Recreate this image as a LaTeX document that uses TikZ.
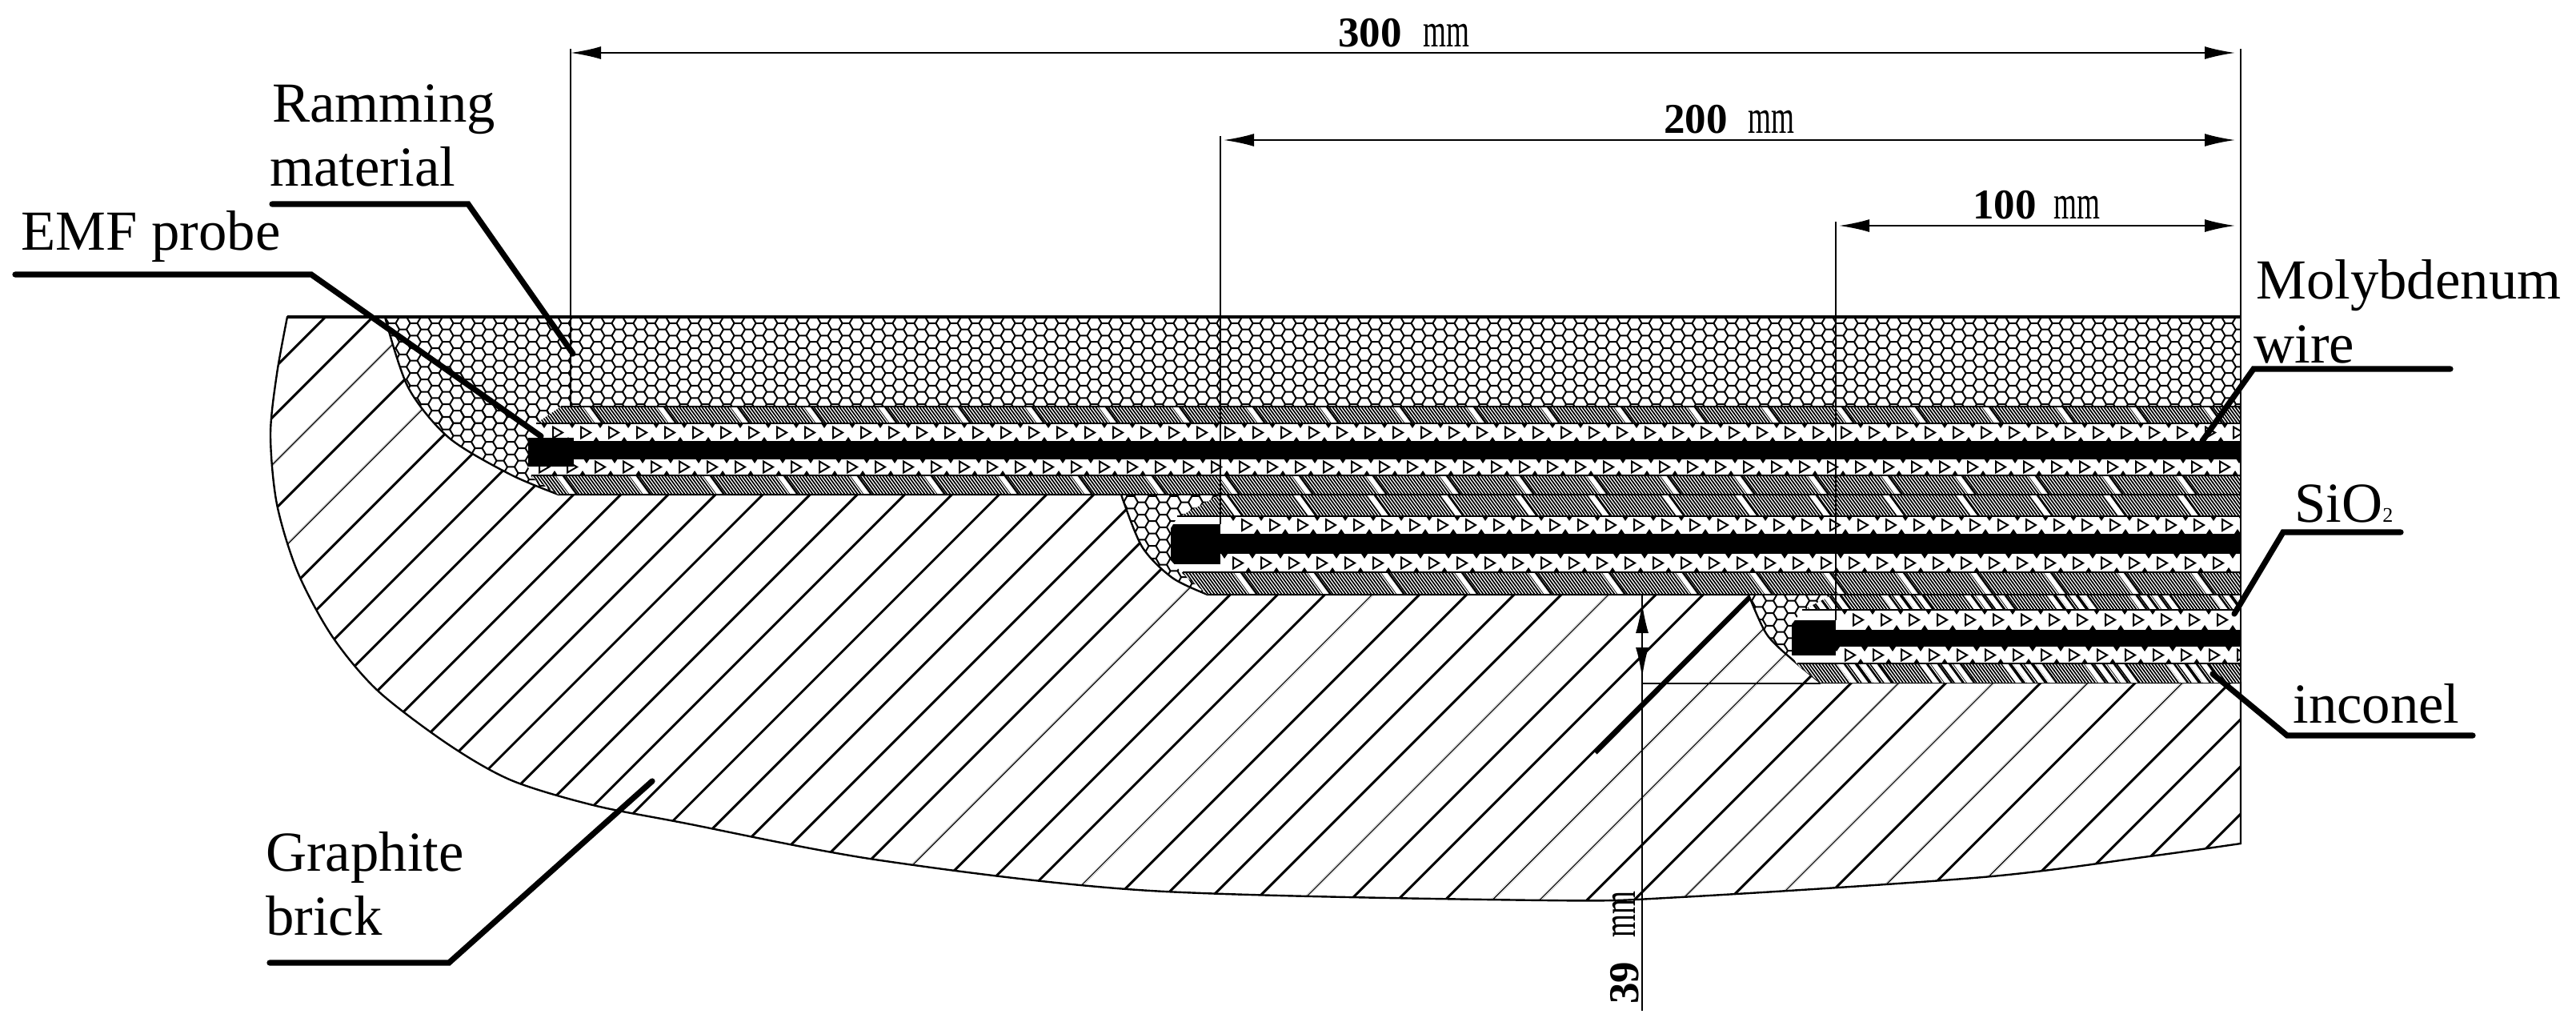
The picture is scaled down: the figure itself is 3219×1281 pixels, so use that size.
\documentclass[tikz,border=0pt]{standalone}
\usepackage{fontspec}
\setmainfont{Liberation Serif}
\usetikzlibrary{arrows.meta}

\tikzset{
    lbl/.style={inner sep=0pt,anchor=base west,font=\fontsize{35.35}{40}\selectfont},
    numlbl/.style={inner sep=0pt,anchor=base west,font=\fontsize{26.5}{30}\selectfont\bfseries},
    mmlbl/.style={inner sep=0pt,anchor=base west,font=\fontsize{30}{30}\selectfont,xscale=.62,transform shape},
    leader/.style={line width=3.6pt,line cap=round},
    extline/.style={line width=1.1pt},
    dimarrow/.style={line width=1.1pt,{Latex[length=19pt,width=8pt]}-{Latex[length=19pt,width=8pt]}},
    edge/.style={line width=1.2pt},
    hexline/.style={line width=1pt},
    graphline/.style={line width=1.5pt}
}

% honeycomb: xleft, columns, ytop, rows
\newcommand{\hexgrid}[4]{
    \foreach \i in {0,...,#2}{
        \foreach \j in {0,...,#4}{
            \pgfmathsetmacro{\hx}{#1+13.5*\i}
            \pgfmathsetmacro{\hy}{#3+15.6*\j+7.8*mod(\i,2)}
            \draw[hexline] (\hx,\hy) -- ++(9,0) (\hx,\hy) -- ++(-4.5,7.8) (\hx,\hy) -- ++(-4.5,-7.8);
        }
    }
}

% dense band: top, bottom, xstart, first stripe, period, stripes per group
\newcommand{\hatchband}[6]{
    \begin{scope}
        \clip (600,#1) rectangle (2800,#2);
        \foreach \x in {#3,\the\numexpr#3+4\relax,...,2860}{
            \draw[line width=.85pt] (\x,#2) -- ++({-.73*(#2-#1)},{#1-#2});
        }
        \foreach \x in {#4,\the\numexpr#4+#5\relax,...,2860}{
            \foreach \k in {1,...,#6}{
                \pgfmathsetmacro{\sx}{\x+14*(\k-1)}
                \fill[white] (\sx,#2) -- ++(-9,0) -- ++({-.73*(#2-#1)},{#1-#2}) -- ++(9,0) -- cycle;
                \draw[line width=1.2pt] (\sx,#2) -- ++({-.73*(#2-#1)},{#1-#2});
            }
        }
    \end{scope}
}

% triangle band: top, bottom, first triangle
\newcommand{\triband}[3]{
    \pgfmathsetmacro{\ym}{(#1+#2)/2}
    \foreach \x in {#3,\the\numexpr#3+35\relax,...,2830}{
        \draw[line width=1pt] (\x-6,\ym-7) -- (\x-6,\ym+7) -- (\x+6,\ym) -- cycle;
        \fill (\x-21,#1) -- ++(8,0) -- ++(-4,6) -- cycle;
        \fill (\x+9,#2) -- ++(8,0) -- ++(-4,-6) -- cycle;
    }
}

\def\graphiteoutline{(359,396) -- (481,396)
    -- plot[smooth] coordinates {(481,396) (510,484) (561,547) (638,593) (698,618)}
    -- (1401,618)
    -- plot[smooth] coordinates {(1401,618) (1427,683) (1465,722) (1509,743)}
    -- (2185,743)
    -- plot[smooth] coordinates {(2185,743) (2208,793) (2243,827) (2275,853)}
    -- (2800,853) -- (2800,1054)
    -- plot[smooth] coordinates {(2800,1054) (2686,1070) (2478,1096) (2100,1121) (1931,1125) (1438,1113) (1100,1075) (853,1028) (741,1006) (639,975) (560,930) (472,863) (415,795) (372,715) (346,630) (338,543) (346,467) (359,396)}
    -- cycle}
\def\pocketoutline{(481,396) -- (2800,396) -- (2800,618) -- (698,618)
    -- plot[smooth] coordinates {(698,618) (638,593) (561,547) (510,484) (481,396)} -- cycle
    (1401,618) -- plot[smooth] coordinates {(1401,618) (1427,683) (1465,722) (1509,743)} -- (1530,743) -- (1530,618) -- cycle
    (2185,743) -- plot[smooth] coordinates {(2185,743) (2208,793) (2243,827) (2275,853)} -- (2300,853) -- (2300,743) -- cycle}
\def\stackone{(701,508) -- (2800,508) -- (2800,618) -- (698,618) -- (664,596) -- (660,583) -- (660,547) -- (670,529) -- cycle}
\def\stacktwo{(1525,618) -- (2800,618) -- (2800,743) -- (1509,743) -- (1478,717) -- (1463,700) -- (1463,660) -- (1471,647) -- cycle}
\def\stackthree{(2290,743) -- (2800,743) -- (2800,853) -- (2275,853) -- (2246,831) -- (2239,818) -- (2239,780) -- (2252,763) -- cycle}

\begin{document}
\begin{tikzpicture}[x=.5pt,y=-.5pt]
    \useasboundingbox (0,0) rectangle (3219,1281);

    % graphite brick
    \begin{scope}
        \clip \graphiteoutline;
        \foreach \k in {-45,...,11}{
            \pgfmathsetmacro{\c}{3285+59.1*\k}
            \draw[graphline] (\c-380,380) -- (\c-1200,1200);
        }
        \foreach \k in {-40,-38,-18,-14,-9,-5,-4,-1,1,3,5}{
            \pgfmathsetmacro{\c}{3285+59.1*\k}
            \draw[graphline,white] (\c-380,380) -- (\c-1200,1200);
            \draw[line width=.6pt] (\c-380,380) -- (\c-1200,1200);
        }
        \draw[line width=2.2pt] (2191,743) -- (1994,941);
    \end{scope}
    \draw[edge] \graphiteoutline;

    % ramming material
    \begin{scope}
        \clip \pocketoutline;
        \hexgrid{472}{174}{396}{8}
        \hexgrid{472}{18}{521}{7}
        \hexgrid{1395}{10}{612}{9}
        \hexgrid{2180}{9}{735}{8}
    \end{scope}

    % three probes
    \begin{scope}
        \clip \stackone;
        \fill[white] (650,500) rectangle (2800,620);
        \hatchband{508}{529}{660}{753}{92}{1}
        \hatchband{594}{618}{660}{721}{92}{1}
        \triband{529}{552}{697}
        \triband{573}{594}{680}
        \fill (717,552) rectangle (2800,573);
        \fill (660,547) rectangle (717,583);
    \end{scope}
    \begin{scope}
        \clip \stacktwo;
        \fill[white] (1450,618) rectangle (2800,743);
        \hatchband{618}{645}{1450}{1553}{92}{1}
        \hatchband{715}{743}{1450}{1571}{92}{1}
        \triband{645}{667}{1558}
        \triband{692}{715}{1547}
        \fill (1525,667) rectangle (2800,692);
        \fill (1463,655) rectangle (1525,705);
    \end{scope}
    \begin{scope}
        \clip \stackthree;
        \fill[white] (2230,743) rectangle (2800,853);
        \hatchband{743}{762}{2230}{2271}{103}{4}
        \hatchband{829}{853}{2230}{2322}{103}{4}
        \triband{762}{787}{2322}
        \triband{808}{829}{2312}
        \fill (2294,787) rectangle (2800,808);
        \fill (2239,775) rectangle (2294,819);
    \end{scope}
    \draw[edge] (701,508) -- (2800,508) (670,529) -- (2800,529) (717,552) -- (2800,552)
        (717,573) -- (2800,573) (664,594) -- (2800,594) (698,618) -- (2800,618)
        (1471,645) -- (2800,645) (1478,715) -- (2800,715) (1509,743) -- (2800,743)
        (2252,762) -- (2800,762) (2246,829) -- (2800,829);
    \draw[edge,line width=1.6pt] (359,396) -- (2800,396);

    % dimensions
    \coordinate (tl3) at (713,66);
    \coordinate (tr3) at (2793,66);
    \coordinate (tl2) at (1529,175);
    \coordinate (tr2) at (2793,175);
    \coordinate (tl1) at (2298,282);
    \coordinate (tr1) at (2793,282);
    \coordinate (tw1) at (2052,753);
    \coordinate (tw2) at (2052,847);
    \draw[dimarrow] (tl3) -- (tr3);
    \draw[dimarrow] (tl2) -- (tr2);
    \draw[dimarrow] (tl1) -- (tr1);
    \draw[dimarrow] (tw1) -- (tw2);
    \draw[extline] (713,61) -- (713,509);
    \draw[extline] (1525,170) -- (1525,655);
    \draw[extline] (2294,277) -- (2294,775);
    \draw[extline,line width=1.25pt] (2800,61) -- (2800,1054);
    \draw[extline] (2052,743) -- (2052,1263);
    \draw[extline] (2052,854) -- (2275,854);

    \node[numlbl] (dimc) at (1672,58) {300};
    \node[mmlbl] (mmc) at (1778,58) {mm};
    \node[numlbl] (dimb) at (2079,166) {200};
    \node[mmlbl] (mmb) at (2184,166) {mm};
    \node[numlbl] (dima) at (2465,273) {100};
    \node[mmlbl] (mma) at (2566,273) {mm};
    \node[numlbl,rotate=90] (dimw) at (2047,1255) {39};
    \node[rotate=90,mmlbl] (mmw) at (2043,1172) {mm};

    % labels
    \node[lbl] (ramming) at (340,152) {Ramming};
    \node[lbl] (material) at (337,232) {material};
    \node[lbl] (emf) at (26,312) {EMF probe};
    \node[lbl] (molyb) at (2819,373) {Molybdenum};
    \node[lbl] (wire) at (2816,453) {wire};
    \node[lbl] (sio) at (2867,652) {SiO{\fontsize{13}{13}\selectfont 2}};
    \node[lbl] (inconel) at (2865,903) {inconel};
    \node[lbl] (graphite) at (332,1088) {Graphite};
    \node[lbl] (brick) at (332,1168) {brick};

    % leaders
    \coordinate (la) at (340,255);
    \coordinate (lb) at (585,255);
    \coordinate (lc) at (716,442);
    \draw[leader] (la) -- (lb) -- (lc);
    \coordinate (ld) at (19,343);
    \coordinate (le) at (389,343);
    \coordinate (lf) at (676,545);
    \draw[leader] (ld) -- (le) -- (lf);
    \coordinate (lg) at (3062,461);
    \coordinate (lh) at (2816,461);
    \coordinate (li) at (2752,551);
    \draw[leader] (lg) -- (lh) -- (li);
    \coordinate (lj) at (3000,665);
    \coordinate (lk) at (2853,665);
    \coordinate (ll) at (2792,767);
    \draw[leader] (lj) -- (lk) -- (ll);
    \coordinate (lm) at (3090,919);
    \coordinate (ln) at (2858,919);
    \coordinate (lo) at (2765,842);
    \draw[leader] (lm) -- (ln) -- (lo);
    \coordinate (lp) at (337,1203);
    \coordinate (lq) at (561,1203);
    \coordinate (lr) at (815,976);
    \draw[leader] (lp) -- (lq) -- (lr);
\end{tikzpicture}
\end{document}
